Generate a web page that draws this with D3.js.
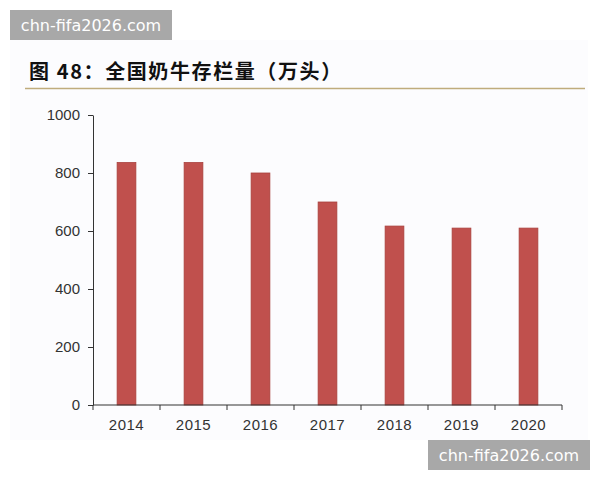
<!DOCTYPE html>
<html><head><meta charset="utf-8">
<script src="https://cdn.jsdelivr.net/npm/d3@7"></script>
<style>body{margin:0;background:#fff;}svg{display:block;}</style>
</head><body><svg id="c" width="600" height="480"></svg>
<script>
const categories = ["2014","2015","2016","2017","2018","2019","2020"];
const values = [836, 836, 800, 700, 617, 610, 610];
const yTicks = [0, 200, 400, 600, 800, 1000];
const title = "图 48：全国奶牛存栏量（万头）";
const watermark = "chn-fifa2026.com";

const svg = d3.select("#c");
svg.append("rect").attr("x",10).attr("y",40).attr("width",578).attr("height",400).attr("fill","#fcfcfe");

const m = {l:93, r:562, t:115, b:405};
const x = d3.scaleBand().domain(categories).range([m.l, m.r]).paddingInner(0.72).paddingOuter(0.36);
const xb = d3.scaleBand().domain(categories).range([m.l, m.r]);
const y = d3.scaleLinear().domain([0,1000]).range([m.b, m.t]);

// title
svg.append("text").attr("x",29).attr("y",79).text(title)
  .attr("font-family","'Noto Sans CJK SC'").attr("font-weight","bold").attr("font-size",20)
  .attr("letter-spacing",1.6).attr("fill","#111");
svg.append("line").attr("x1",25).attr("x2",585).attr("y1",88.5).attr("y2",88.5).attr("stroke","#bfac7c").attr("stroke-width",1.5);

// bars
svg.selectAll("rect.bar").data(values).enter().append("rect").attr("class","bar")
  .attr("x",(d,i)=>x(categories[i])).attr("width",x.bandwidth())
  .attr("y",d=>y(d)).attr("height",d=>m.b-y(d))
  .attr("fill","#c0504d").attr("stroke","#a9403d").attr("stroke-width",0.8);

// y axis
const ya = svg.append("g").attr("transform",`translate(${m.l},0)`)
  .call(d3.axisLeft(y).tickValues(yTicks).tickSize(5).tickSizeOuter(0).tickFormat(d3.format("d")));
ya.select(".domain").attr("stroke","#333");
ya.selectAll(".tick line").attr("stroke","#333");
ya.selectAll("text").attr("font-family","'Liberation Sans', Arial").attr("font-size",15).attr("fill","#333").attr("x",-13);

// x axis
const xa = svg.append("g").attr("transform",`translate(0,${m.b})`);
xa.append("line").attr("x1",m.l).attr("x2",m.r).attr("stroke","#333");
const bounds = categories.map(c=>xb(c)).concat([m.r]);
xa.selectAll("line.t").data(bounds).enter().append("line").attr("class","t")
  .attr("x1",d=>d).attr("x2",d=>d).attr("y1",0).attr("y2",5).attr("stroke","#333");
xa.selectAll("text").data(categories).enter().append("text")
  .attr("x",d=>x(d)+x.bandwidth()/2).attr("y",24.5).attr("text-anchor","middle")
  .attr("font-family","'Liberation Sans', Arial").attr("font-size",15).attr("letter-spacing",0.5).attr("fill","#333").text(d=>d);

// watermarks
function wm(x0,y0){
  svg.append("rect").attr("x",x0).attr("y",y0).attr("width",162).attr("height",30).attr("fill","#a8a8a8");
  svg.append("text").attr("x",x0+81).attr("y",y0+21).attr("text-anchor","middle").attr("fill","#fff")
    .attr("font-family","'DejaVu Sans'").attr("font-size",16).text(watermark);
}
wm(10,10); wm(428,440);
</script></body></html>
